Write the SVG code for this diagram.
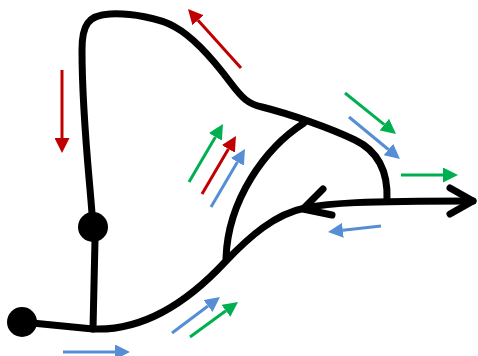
<svg xmlns="http://www.w3.org/2000/svg" width="478" height="356" viewBox="0 0 478 356">
  <style>
    .road{fill:none;stroke:#000;stroke-width:7;stroke-linecap:round;stroke-linejoin:round}
    .r{stroke:#C00000;stroke-width:3;fill:none}
    .g{stroke:#00B050;stroke-width:3;fill:none}
    .b{stroke:#558ED5;stroke-width:3;fill:none}
  </style>
  <defs>
    <marker id="mr" markerWidth="5" markerHeight="5" refX="0" refY="2.5" orient="auto" markerUnits="strokeWidth"><path d="M0,0 L5,2.5 L0,5 z" fill="#C00000"/></marker>
    <marker id="mg" markerWidth="5" markerHeight="5" refX="0" refY="2.5" orient="auto" markerUnits="strokeWidth"><path d="M0,0 L5,2.5 L0,5 z" fill="#00B050"/></marker>
    <marker id="mb" markerWidth="5" markerHeight="5" refX="0" refY="2.5" orient="auto" markerUnits="strokeWidth"><path d="M0,0 L5,2.5 L0,5 z" fill="#558ED5"/></marker>
  </defs>
  <rect width="478" height="356" fill="#fff"/>
  <g id="connectors">
    <path class="road" d="M93,329 L95,240 L93,227 C90,180 82,120 82,50 C82,25 88,15 110,14 C130,13 160,18 175,27 C195,38 215,62 230,82 C242,98 248,104 262,107 C290,114 330,128 355,140 C380,152 388,175 387,200"/>
    <path class="road" d="M304,123 C265,148 228,200 226,258"/>
    <path class="road" d="M22,322 L93,329 C140,331 185,305 225,262 C250,236 275,214 305,208 C330,203 360,201 473,201"/>
    <path class="road" d="M323,189 L303,209 L332,215"/>
    <path class="road" d="M450,188 L473,201 L450,214"/>
  </g>
  <g id="node-start"><circle cx="22" cy="322" r="15" fill="#000"/></g>
  <g id="node-mid"><circle cx="93" cy="227" r="15" fill="#000"/></g>
  <g id="flows">
    <line class="r" x1="62" y1="70" x2="62" y2="138" marker-end="url(#mr)"/>
    <line class="r" x1="241" y1="68" x2="198" y2="20.2" marker-end="url(#mr)"/>
    <line class="g" x1="189" y1="182" x2="215.4" y2="136.9" marker-end="url(#mg)"/>
    <line class="r" x1="202" y1="194" x2="228.4" y2="148.9" marker-end="url(#mr)"/>
    <line class="b" x1="211" y1="207" x2="237.4" y2="161.9" marker-end="url(#mb)"/>
    <line class="g" x1="345" y1="93" x2="384.3" y2="124.6" marker-end="url(#mg)"/>
    <line class="b" x1="349" y1="117" x2="388.4" y2="149.5" marker-end="url(#mb)"/>
    <line class="g" x1="401" y1="175" x2="443" y2="175" marker-end="url(#mg)"/>
    <line class="b" x1="381" y1="226" x2="342.9" y2="230.3" marker-end="url(#mb)"/>
    <line class="b" x1="63" y1="352" x2="115" y2="352" marker-end="url(#mb)"/>
    <line class="b" x1="172" y1="333" x2="208" y2="306" marker-end="url(#mb)"/>
    <line class="g" x1="190" y1="337" x2="225.9" y2="310.8" marker-end="url(#mg)"/>
  </g>
</svg>
